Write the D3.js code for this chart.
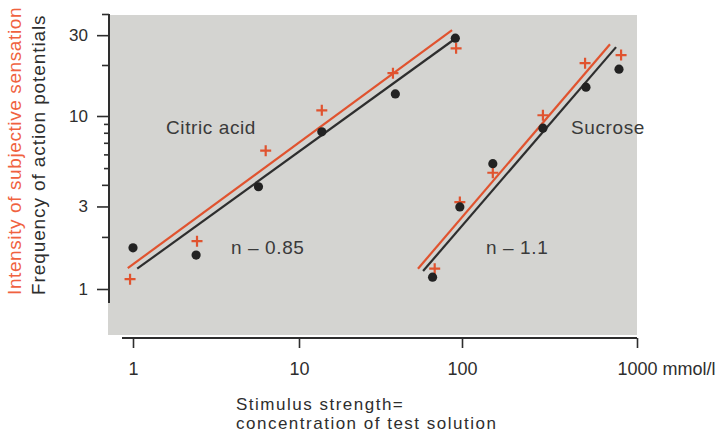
<!DOCTYPE html>
<html>
<head>
<meta charset="utf-8">
<script src="https://cdn.jsdelivr.net/npm/d3@7"></script>
<style>
  body { margin: 0; background: #fff; }
  svg { display: block; font-family: "Liberation Sans", Arial, sans-serif; }
</style>
</head>
<body>
<div id="chart"></div>
<script>
// concentrations (mmol/l) and responses
const citricDotX = [1.0, 2.4, 5.7, 13.8, 39, 91];
const citricDotY = [1.73, 1.57, 3.9, 8.1, 13.5, 28.8];
const citricPlusX = [0.96, 2.43, 6.3, 13.8, 37.7, 92];
const citricPlusY = [1.14, 1.89, 6.3, 10.8, 17.9, 25.1];
const sucroseDotX = [66, 97, 150, 290, 511, 789];
const sucroseDotY = [1.17, 2.98, 5.3, 8.5, 14.8, 18.9];
const sucrosePlusX = [68, 97, 150, 290, 505, 811];
const sucrosePlusY = [1.31, 3.18, 4.7, 10.1, 20.5, 22.9];

// fitted power lines (start / end)
const citricSensFitX = [0.93, 86.9];
const citricSensFitY = [1.32, 32.1];
const citricNerveFitX = [1.06, 88.1];
const citricNerveFitY = [1.31, 28.0];
const sucroseSensFitX = [53.7, 701];
const sucroseSensFitY = [1.31, 26.5];
const sucroseNerveFitX = [57.7, 759];
const sucroseNerveFitY = [1.27, 25.5];

const xTicks = [1, 10, 100, 1000];
const yTicks = [1, 2, 3, 4, 5, 6, 7, 8, 9, 10, 20, 30, 40];
const yLabels = [1, 3, 10, 30];

const width = 725;
const height = 434;
const red = "#e0532f";
const dark = "#2e2e2e";

const svg = d3.select("#chart").append("svg")
    .attr("width", width)
    .attr("height", height)
    .attr("viewBox", [0, 0, width, height]);

// the printed axes are hand-drawn, decades are not quite equal
const x = d3.scaleLog()
    .domain([1, 10, 100, 1000])
    .range([133, 299, 462, 637]);

const y = d3.scaleLog()
    .domain([1, 10, 40])
    .range([289, 116, 14]);

// grey panel
svg.append("rect")
    .attr("x", 108)
    .attr("y", 15)
    .attr("width", 637 - 108)
    .attr("height", 335 - 15)
    .attr("fill", "#d4d4d1");

// y axis
const yAxis = svg.append("g")
    .attr("transform", "translate(109,0)")
    .call(d3.axisLeft(y)
        .tickValues(yTicks)
        .tickSize(12)
        .tickPadding(9)
        .tickFormat(d => yLabels.includes(d) ? d : ""));
yAxis.select(".domain").remove();
yAxis.append("line")
    .attr("x1", 0).attr("x2", 0)
    .attr("y1", y(40)).attr("y2", 303)
    .attr("stroke", dark)
    .attr("stroke-width", 2);
yAxis.selectAll(".tick line")
    .attr("stroke", dark)
    .attr("stroke-width", 1.6)
    .attr("x2", d => yLabels.includes(d) ? -12 : (d >= 5 && d <= 9 ? -5 : -7));
yAxis.selectAll(".tick text")
    .attr("fill", dark)
    .style("font-size", "17px");

// x axis
const xAxis = svg.append("g")
    .attr("transform", "translate(0,338)")
    .call(d3.axisBottom(x)
        .tickValues(xTicks)
        .tickSize(10)
        .tickPadding(14)
        .tickFormat(d3.format("d")));
xAxis.select(".domain").remove();
xAxis.append("line")
    .attr("x1", 122).attr("x2", 637)
    .attr("y1", 0).attr("y2", 0)
    .attr("stroke", dark)
    .attr("stroke-width", 2);
xAxis.selectAll(".tick line")
    .attr("stroke", dark)
    .attr("stroke-width", 1.6);
xAxis.selectAll(".tick text")
    .attr("fill", dark)
    .style("font-size", "18px");
xAxis.selectAll(".tick text")
    .filter(d => d === 1000)
    .attr("text-anchor", "start")
    .attr("x", -20)
    .text("1000 mmol/l");

// axis titles
svg.append("text")
    .attr("transform", "translate(21,295) rotate(-90)")
    .attr("fill", "#f0623f")
    .style("font-size", "19px")
    .style("letter-spacing", "0.6px")
    .text("Intensity of subjective sensation");
svg.append("text")
    .attr("transform", "translate(45,295) rotate(-90)")
    .attr("fill", dark)
    .style("font-size", "19px")
    .style("letter-spacing", "0.9px")
    .text("Frequency of action potentials");

svg.append("text")
    .attr("x", 236).attr("y", 410)
    .attr("fill", dark)
    .style("font-size", "17px")
    .style("letter-spacing", "1.5px")
    .text("Stimulus strength=");
svg.append("text")
    .attr("x", 236).attr("y", 429)
    .attr("fill", dark)
    .style("font-size", "17px")
    .style("letter-spacing", "1.5px")
    .text("concentration of test solution");

// fit lines
const line = d3.line()
    .x(d => x(d[0]))
    .y(d => y(d[1]));

const fits = [
    [d3.zip(citricSensFitX, citricSensFitY), red],
    [d3.zip(citricNerveFitX, citricNerveFitY), dark],
    [d3.zip(sucroseSensFitX, sucroseSensFitY), red],
    [d3.zip(sucroseNerveFitX, sucroseNerveFitY), dark]
];

svg.append("g")
    .selectAll("path")
    .data(fits)
    .join("path")
    .attr("fill", "none")
    .attr("stroke", d => d[1])
    .attr("stroke-width", 2.2)
    .attr("d", d => line(d[0]));

// red crosses = subjective sensation
const pluses = d3.zip(citricPlusX, citricPlusY).concat(d3.zip(sucrosePlusX, sucrosePlusY));
const plusSize = 5.5;
svg.append("g")
    .selectAll("path")
    .data(pluses)
    .join("path")
    .attr("fill", "none")
    .attr("stroke", red)
    .attr("stroke-width", 2.2)
    .attr("d", d => {
        const cx = x(d[0]), cy = y(d[1]);
        return `M${cx - plusSize},${cy}H${cx + plusSize}M${cx},${cy - plusSize}V${cy + plusSize}`;
    });

// black dots = action potentials
const dots = d3.zip(citricDotX, citricDotY).concat(d3.zip(sucroseDotX, sucroseDotY));
svg.append("g")
    .selectAll("circle")
    .data(dots)
    .join("circle")
    .attr("cx", d => x(d[0]))
    .attr("cy", d => y(d[1]))
    .attr("r", 4.6)
    .attr("fill", "#222");

// labels inside the panel
const labels = [
    ["Citric acid", 166, 134],
    ["Sucrose", 571, 134],
    ["n \u2013 0.85", 231, 254],
    ["n \u2013 1.1", 486, 254]
];
svg.append("g")
    .selectAll("text")
    .data(labels)
    .join("text")
    .attr("x", d => d[1])
    .attr("y", d => d[2])
    .attr("fill", "#3a3a3a")
    .style("font-size", "19px")
    .style("letter-spacing", "0.6px")
    .text(d => d[0]);
</script>
</body>
</html>
